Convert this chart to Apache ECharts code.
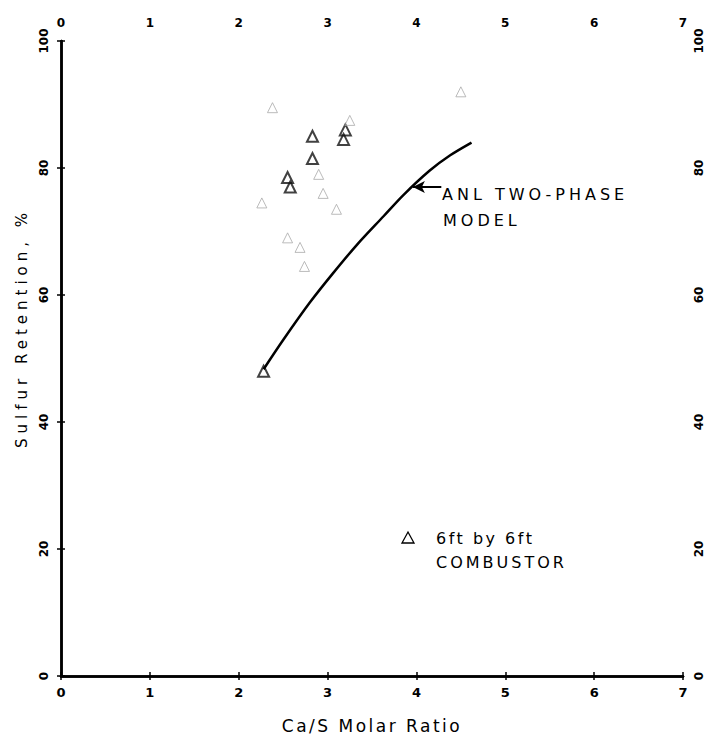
<!DOCTYPE html>
<html><head><meta charset="utf-8">
<script src="https://cdn.jsdelivr.net/npm/echarts@6/dist/echarts.min.js"></script>
<style>html,body{margin:0;padding:0;background:#fff}#c{width:708px;height:739px}</style>
</head><body><div id="c"></div>
<script>
var xTicks = [0, 1, 2, 3, 4, 5, 6, 7];
var yTicks = [0, 20, 40, 60, 80, 100];
var modelCurve = [[2.28, 48.3], [2.5, 52.9], [2.8, 58.8], [3.06, 63.4], [3.33, 67.9], [3.63, 72.4], [3.85, 75.7], [4.15, 79.6], [4.38, 82.0], [4.62, 84.0]];
var combustorDark = [[2.28, 48], [2.58, 77], [2.55, 78.5], [2.83, 81.5], [2.83, 85], [3.2, 86], [3.18, 84.5]];
var combustorFaint = [[2.38, 89.5], [2.26, 74.5], [2.9, 79], [2.95, 76], [3.1, 73.5], [2.55, 69], [2.69, 67.5], [2.74, 64.5], [4.5, 92], [3.25, 87.5]];
var modelLabel = ['ANL TWO-PHASE', 'MODEL'];
var legendLabel = ['6ft by 6ft', 'COMBUSTOR'];
var yTitle = 'Sulfur Retention, %';
var xTitle = 'Ca/S Molar Ratio';

var chart = echarts.init(document.getElementById('c'), null, {renderer: 'svg'});
var font = 'DejaVu Sans';
var axisLine = {show: true, lineStyle: {color: '#000', width: 2.5}};
var tick = {inside: true, length: 4, lineStyle: {color: '#000', width: 1.5}};
function fmt(list) { return function (v) { return list.indexOf(v) >= 0 ? String(v) : ''; }; }
chart.setOption({
  animation: false,
  backgroundColor: '#fff',
  grid: {left: 61, right: 25, top: 41, bottom: 52},
  xAxis: [
    {type: 'value', min: 0, max: 7, interval: 1, position: 'bottom',
     axisLine: axisLine, splitLine: {show: false}, axisTick: tick,
     axisLabel: {color: '#000', fontFamily: font, fontSize: 13, fontWeight: 'bold', margin: 10, formatter: fmt(xTicks)},
     name: xTitle, nameLocation: 'middle', nameGap: 41,
     nameTextStyle: {color: '#000', fontFamily: font, fontSize: 17}},
    {type: 'value', min: 0, max: 7, interval: 1, position: 'top',
     axisLine: axisLine, splitLine: {show: false}, axisTick: tick,
     axisLabel: {color: '#000', fontFamily: font, fontSize: 12, fontWeight: 'bold', margin: 12, formatter: fmt(xTicks)}}
  ],
  yAxis: [
    {type: 'value', min: 0, max: 100, interval: 20, position: 'left',
     axisLine: axisLine, splitLine: {show: false}, axisTick: tick,
     axisLabel: {color: '#000', fontFamily: font, fontSize: 12, fontWeight: 'bold', rotate: 90, margin: 11, formatter: fmt(yTicks)}},
    {type: 'value', min: 0, max: 100, interval: 20, position: 'right',
     axisLine: axisLine, splitLine: {show: false}, axisTick: tick,
     axisLabel: {color: '#000', fontFamily: font, fontSize: 12, fontWeight: 'bold', rotate: 90, margin: 10, formatter: fmt(yTicks)}}
  ],
  series: [
    {type: 'line', name: 'ANL two-phase model', data: modelCurve, smooth: 0.3,
     showSymbol: false, lineStyle: {color: '#000', width: 2.5},
     markLine: {silent: true, symbol: ['none', 'arrow'], symbolSize: [9, 12],
       lineStyle: {color: '#000', width: 2, type: 'solid'}, label: {show: false},
       data: [[{coord: [4.28, 77]}, {coord: [3.96, 77]}]]}},
    {type: 'scatter', name: '6ft by 6ft combustor', data: combustorDark,
     symbol: 'triangle', symbolSize: 11,
     itemStyle: {color: 'rgba(0,0,0,0)', borderColor: '#111', borderWidth: 2}},
    {type: 'scatter', name: 'faint', data: combustorFaint,
     symbol: 'triangle', symbolSize: 10,
     itemStyle: {color: 'rgba(0,0,0,0)', borderColor: '#aaa', borderWidth: 1}}
  ],
  graphic: [
    {type: 'text', x: 22, y: 328, rotation: Math.PI / 2,
     style: {text: yTitle, fill: '#000', font: '15px "DejaVu Sans"', align: 'center', verticalAlign: 'middle'}},
    {type: 'text', left: 442, top: 186, style: {text: modelLabel[0], fill: '#000', font: '16px "DejaVu Sans"'}},
    {type: 'text', left: 443, top: 212, style: {text: modelLabel[1], fill: '#000', font: '16px "DejaVu Sans"'}},
    {type: 'text', left: 436, top: 530, style: {text: legendLabel[0], fill: '#000', font: '16px "DejaVu Sans"'}},
    {type: 'text', left: 436, top: 554, style: {text: legendLabel[1], fill: '#000', font: '16px "DejaVu Sans"'}},
    {type: 'polygon', shape: {points: [[402, 543], [414, 543], [408, 532]]},
     style: {fill: 'none', stroke: '#000', lineWidth: 1.3}}
  ]
});
var spacing = {'ANL TWO-PHASE': '4px', 'MODEL': '4px', '6ft by 6ft': '2.5px', 'COMBUSTOR': '3px',
  'Ca/S Molar Ratio': '2.5px', 'Sulfur Retention, %': '5px'};
document.querySelectorAll('#c svg text').forEach(function (t) {
  var s = spacing[t.textContent];
  if (s) t.style.letterSpacing = s;
});
</script></body></html>
